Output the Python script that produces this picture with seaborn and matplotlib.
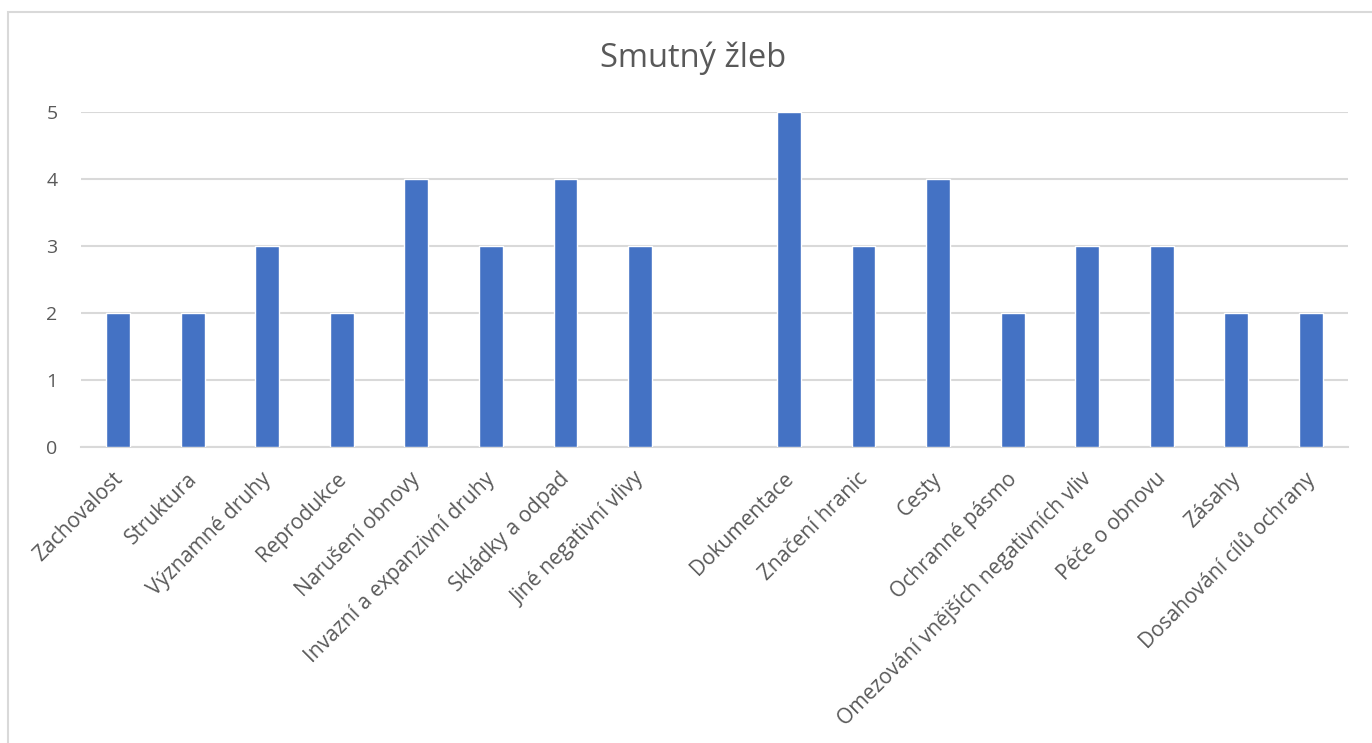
import matplotlib
matplotlib.use("Agg")
import matplotlib.pyplot as plt
import matplotlib.transforms as mtransforms
import pandas as pd
import seaborn as sns
from matplotlib.patches import Rectangle

# Values; "" is the empty gap slot between the two groups
categories = [
    "Zachovalost", "Struktura", "Významné druhy", "Reprodukce",
    "Narušení obnovy", "Invazní a expanzivní druhy", "Skládky a odpad",
    "Jiné negativní vlivy",
    "Dokumentace", "Značení hranic", "Cesty", "Ochranné pásmo",
    "Omezování vnějších negativních vliv", "Péče o obnovu", "Zásahy",
    "Dosahování cílů ochrany",
]
values = [2, 2, 3, 2, 4, 3, 4, 3, 5, 3, 4, 2, 3, 3, 2, 2]
order = categories[:8] + [""] + categories[8:]
title = "Smutný žleb"

df = pd.DataFrame({"category": categories, "value": values})

sns.set_theme(style="white")
plt.rcParams["font.family"] = ["Open Sans", "DejaVu Sans"]

text_color = "#595959"
grid_color = "#D9D9D9"
bar_color = "#4472C4"

fig = plt.figure(figsize=(13.72, 7.43), dpi=100)
ax = fig.add_axes([81 / 1372, 1 - 447 / 743, (1348 - 81) / 1372, (447 - 112) / 743])

sns.barplot(data=df, x="category", y="value", order=order, color=bar_color,
            width=0.32, saturation=1, ax=ax, zorder=3)

ax.set_ylim(0, 5)
ax.set_yticks(range(0, 6))
ax.yaxis.grid(True, color=grid_color, linewidth=1.5, zorder=0)
ax.set_xlabel("")
ax.set_ylabel("")
for side in ["top", "right", "left"]:
    ax.spines[side].set_visible(False)
ax.spines["bottom"].set_color(grid_color)
ax.spines["bottom"].set_linewidth(1.5)
ax.tick_params(axis="both", length=0, colors=text_color)
ax.tick_params(axis="y", pad=17, labelsize=14)
ax.tick_params(axis="x", pad=0, labelsize=15.1)

# rotated labels, ending just at each tick, a bit below the axis (Excel style)
offset = mtransforms.ScaledTranslation(0.01, -0.29, fig.dpi_scale_trans)
for lbl in ax.get_xticklabels():
    lbl.set_rotation(45)
    lbl.set_ha("right")
    lbl.set_va("center")
    lbl.set_rotation_mode("anchor")
    lbl.set_transform(lbl.get_transform() + offset)

fig.text(693 / 1372, 1 - 58 / 743, title, ha="center", va="center",
         fontsize=23.5, color=text_color)

# light chart-area border (left and top visible in reference)
fig.add_artist(Rectangle((8 / 1372, -0.1), 1.2, 1.1 - 12 / 743,
                         transform=fig.transFigure, fill=False,
                         edgecolor=grid_color, linewidth=1.5))

fig.savefig("out.png", dpi=100)
